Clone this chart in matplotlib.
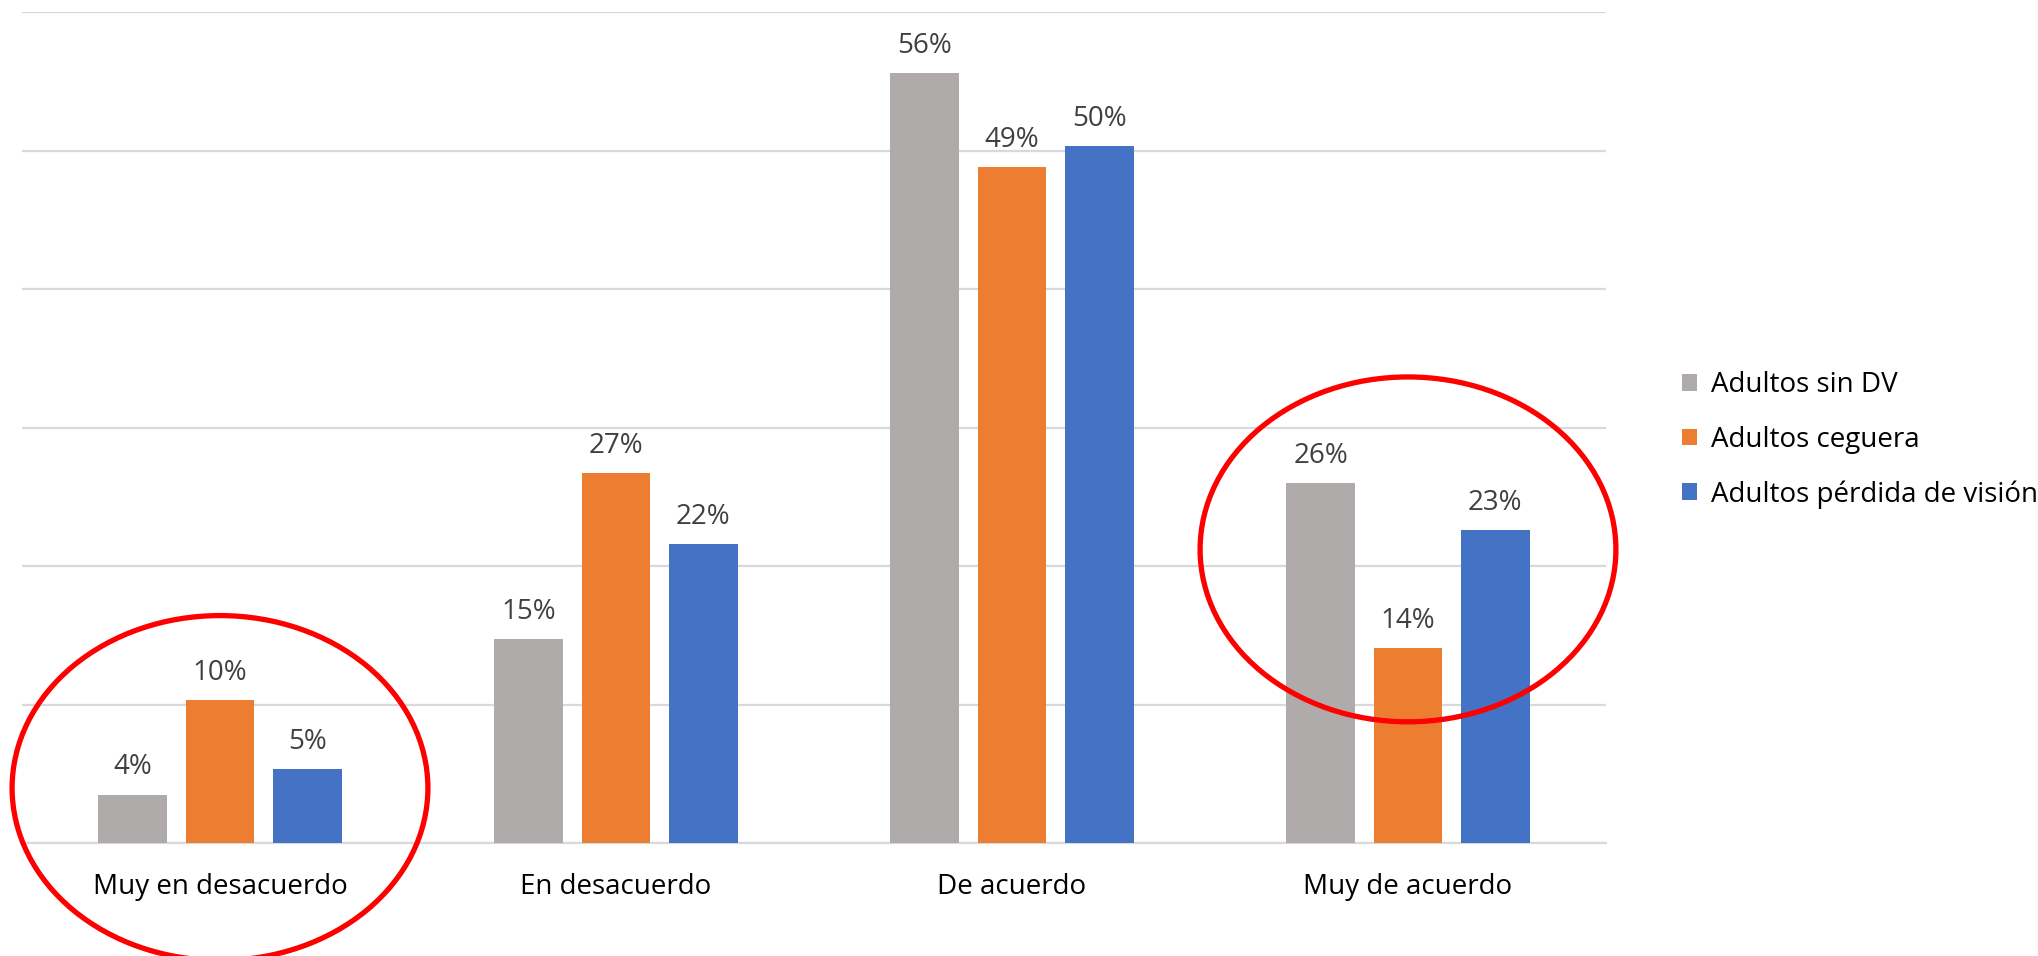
import matplotlib
matplotlib.use("Agg")
import matplotlib.pyplot as plt
from matplotlib.patches import Ellipse, Patch
import numpy as np

categories = ["Muy en desacuerdo", "En desacuerdo", "De acuerdo", "Muy de acuerdo"]
series_names = ["Adultos sin DV", "Adultos ceguera", "Adultos pérdida de visión"]
sin_dv = [3.5, 14.7, 55.6, 26.0]
ceguera = [10.3, 26.7, 48.8, 14.1]
perdida = [5.35, 21.6, 50.3, 22.6]
colors = ["#AFABAB", "#ED7D31", "#4472C4"]
highlighted = [0, 3]

plt.rcParams['font.family'] = ['Open Sans', 'DejaVu Sans']

fig = plt.figure(figsize=(20.38, 9.56), dpi=100)
ax = fig.add_axes([22/2038, 1-843/956, (1606-22)/2038, (843-12)/956])

x = np.arange(len(categories))
width = 0.174
step = 0.22
all_series = [sin_dv, ceguera, perdida]
for i, (vals, col, name) in enumerate(zip(all_series, colors, series_names)):
    pos = x + (i - 1) * step
    bars = ax.bar(pos, vals, width=width, color=col, label=name, zorder=3)
    for b, v in zip(bars, vals):
        ax.annotate(f"{int(v + 0.5)}%", (b.get_x() + b.get_width()/2, b.get_height()),
                    xytext=(0, 9.5), textcoords="offset points",
                    ha="center", va="bottom", fontsize=20, color="#404040")

ax.set_xlim(-0.5, len(categories) - 0.5)
ax.set_ylim(0, 60)
ax.set_yticks(np.arange(0, 61, 10))
ax.yaxis.grid(True, color="#D9D9D9", linewidth=1.6, zorder=0)
ax.set_axisbelow(True)
ax.tick_params(axis="y", left=False, labelleft=False)
ax.tick_params(axis="x", bottom=False, pad=18)
ax.set_xticks(x)
ax.set_xticklabels(categories, fontsize=20, color="black")
for s in ["top", "right", "left"]:
    ax.spines[s].set_visible(False)
ax.spines["bottom"].set_color("#D9D9D9")
ax.spines["bottom"].set_linewidth(1.6)

# highlight ellipses
ell_specs = {0: 3.97, 3: 21.2}
for idx in highlighted:
    e = Ellipse((x[idx] + 0.0, ell_specs[idx]), width=1.05, height=24.9,
                fill=False, edgecolor="#FF0000", linewidth=3.8,
                clip_on=False, zorder=5)
    ax.add_patch(e)

handles = [Patch(facecolor=c, edgecolor="none") for c in colors]
fig.legend(handles, series_names, loc="center left",
           bbox_to_anchor=(1668/2038, 1-440/956), frameon=False,
           fontsize=20, handlelength=0.55, handleheight=0.55,
           handletextpad=0.5, labelspacing=0.95, borderpad=0)

fig.savefig("out.png", dpi=100)
